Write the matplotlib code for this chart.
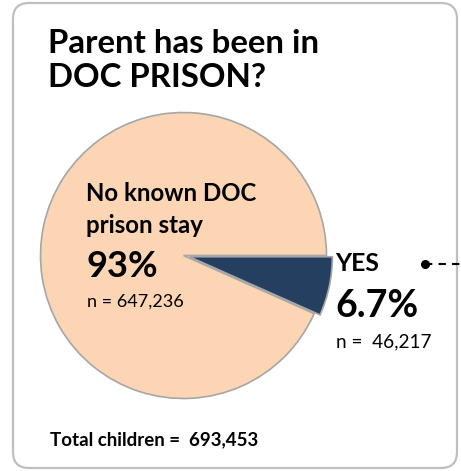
import matplotlib.pyplot as plt
from matplotlib.patches import FancyBboxPatch

# data
labels = ["YES", "No known DOC\nprison stay"]
counts = [46217, 647236]
pct_labels = ["6.7%", "93%"]
n_labels = ["n =  46,217", "n = 647,236"]
total_label = "Total children =  693,453"
title = "Parent has been in\nDOC PRISON?"

W, H = 461, 471
NAVY = "#243F60"
PEACH = "#FCD5B5"
EDGE = "#A6A6A6"
FONT = "Lato"

fig = plt.figure(figsize=(W / 100, H / 100), dpi=100)
ax = fig.add_axes([0, 0, 1, 1])

def Y(py):
    # image pixel row -> data y
    return H - py

# rounded frame
frame = FancyBboxPatch((13, Y(468)), 444, 465,
                       boxstyle="round,pad=0,rounding_size=16",
                       fc="white", ec="#BFBFBF", lw=1.6, zorder=0)
ax.add_patch(frame)

# pie
wedges, _ = ax.pie(counts, colors=[NAVY, PEACH], startangle=0, counterclock=False,
                   center=(183.5, Y(255.5)), radius=143, explode=[6, 0],
                   wedgeprops=dict(edgecolor=EDGE, linewidth=1.2))
for w in wedges:
    w.set_zorder(2)

ax.set_xlim(0, W)
ax.set_ylim(0, H)
ax.set_aspect("auto")
ax.axis("off")

# title
t1, t2 = title.split("\n")
ax.text(48, Y(53), t1, fontsize=23.8, fontweight="bold",
        family=FONT, va="baseline", ha="left")
ax.text(48, Y(87), t2, fontsize=23.8, fontweight="bold",
        family=FONT, va="baseline", ha="left")

# no-prison labels
l1, l2 = labels[1].split("\n")
ax.text(86, Y(201), l1, fontsize=17.3, fontweight="bold", family=FONT,
        va="baseline", zorder=3)
ax.text(86, Y(233), l2, fontsize=17.3, fontweight="bold", family=FONT,
        va="baseline", zorder=3)
ax.text(86, Y(277), pct_labels[1], fontsize=26, fontweight="bold", family=FONT,
        va="baseline", zorder=3)
ax.text(87, Y(307), n_labels[1], fontsize=13, family=FONT, va="baseline", zorder=3)

# yes labels
ax.text(335, Y(271), labels[0], fontsize=17.8, fontweight="bold", family=FONT,
        va="baseline", zorder=3)
ax.text(335, Y(317), pct_labels[0], fontsize=27, fontweight="bold", family=FONT,
        va="baseline", zorder=3)
ax.text(336, Y(347), n_labels[0], fontsize=13.7, family=FONT, va="baseline", zorder=3)

# leader line off the right edge
ax.plot([425, 470], [Y(264), Y(264)], color="black", lw=1.5, ls=(0, (3.5, 3)),
        clip_on=False, zorder=3)
ax.plot([425], [Y(264)], "o", color="black", ms=5.5, zorder=3)

# total
ax.text(50, Y(445), total_label, fontsize=13.5, fontweight="bold", family=FONT,
        va="baseline")

fig.savefig("out.png", dpi=100)
